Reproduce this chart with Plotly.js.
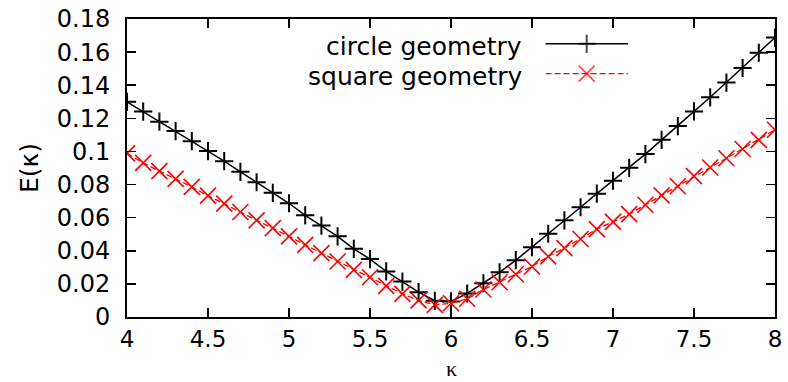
<!DOCTYPE html>
<html>
<head>
<meta charset="utf-8">
<script src="https://cdn.plot.ly/plotly-3.0.1.min.js"></script>
<style>
html, body { margin: 0; padding: 0; background: #fff; }
#chart { width: 788px; height: 382px; }
</style>
</head>
<body>
<div id="chart"></div>
<script>
// ---- data ----
const kappa = [4.0, 4.1, 4.2, 4.3, 4.4, 4.5, 4.6, 4.7, 4.8, 4.9,
               5.0, 5.1, 5.2, 5.3, 5.4, 5.5, 5.6, 5.7, 5.8, 5.9,
               6.0, 6.1, 6.2, 6.3, 6.4, 6.5, 6.6, 6.7, 6.8, 6.9,
               7.0, 7.1, 7.2, 7.3, 7.4, 7.5, 7.6, 7.7, 7.8, 7.9, 8.0];
const circleE = [0.1300, 0.1241, 0.1180, 0.1123, 0.1062, 0.1002, 0.0941, 0.0877, 0.0814, 0.0750,
                 0.0687, 0.0614, 0.0552, 0.0487, 0.0412, 0.0350, 0.0275, 0.0214, 0.0150, 0.0098,
                 0.0094, 0.0142, 0.0204, 0.0270, 0.0343, 0.0422, 0.0503, 0.0584, 0.0663, 0.0745,
                 0.0823, 0.0901, 0.0984, 0.1070, 0.1153, 0.1242, 0.1327, 0.1416, 0.1504, 0.1596, 0.1688];
const squareE = [0.0988, 0.0931, 0.0881, 0.0834, 0.0786, 0.0733, 0.0685, 0.0634, 0.0584, 0.0537,
                 0.0487, 0.0436, 0.0386, 0.0335, 0.0285, 0.0240, 0.0188, 0.0140, 0.0100, 0.0073,
                 0.0083, 0.0110, 0.0166, 0.0210, 0.0258, 0.0305, 0.0366, 0.0416, 0.0471, 0.0531,
                 0.0575, 0.0621, 0.0678, 0.0735, 0.0790, 0.0851, 0.0903, 0.0959, 0.1015, 0.1070, 0.1131];
const seriesNames = ["circle geometry", "square geometry"];
const xTitle = "κ";
const yTitle = "E(κ)";
const xTickVals = [4, 4.5, 5, 5.5, 6, 6.5, 7, 7.5, 8];
const xTickText = ["4", "4.5", "5", "5.5", "6", "6.5", "7", "7.5", "8"];
const yTickVals = [0, 0.02, 0.04, 0.06, 0.08, 0.1, 0.12, 0.14, 0.16, 0.18];
const yTickText = ["0", "0.02", "0.04", "0.06", "0.08", "0.1", "0.12", "0.14", "0.16", "0.18"];

// ---- styles ----
const FONT = "DejaVu Sans";
const black = "#000000";
const red = "#ff0000";
const circleStyle = {
  line: { color: black, width: 1.5 },
  marker: { symbol: "cross-thin", size: 13, color: black, line: { color: black, width: 2 } }
};
const squareStyle = {
  line: { color: red, width: 1.3, dash: "6px,3px" },
  marker: { symbol: "x-thin", size: 16, color: red, line: { color: red, width: 1.6 } }
};

// custom legend key placement (overlay axis 0..1)
const legendKey = { x0: 0.646, xm: 0.7094, x1: 0.773, rows: [0.9166, 0.8168], textX: 0.612 };

const traces = [
  Object.assign({ x: kappa, y: circleE, type: "scatter", mode: "lines+markers",
                  name: seriesNames[0], showlegend: false, hoverinfo: "skip" }, circleStyle),
  Object.assign({ x: kappa, y: squareE, type: "scatter", mode: "lines+markers",
                  name: seriesNames[1], showlegend: false, hoverinfo: "skip" }, squareStyle)
];
[circleStyle, squareStyle].forEach(function (st, i) {
  const yy = legendKey.rows[i];
  traces.push({
    x: [legendKey.x0, legendKey.xm, legendKey.x1], y: [yy, yy, yy],
    xaxis: "x2", yaxis: "y2", type: "scatter", mode: "lines+markers",
    showlegend: false, hoverinfo: "skip",
    line: st.line,
    marker: Object.assign({}, st.marker, { size: [0, st.marker.size, 0] })
  });
});

const axisCommon = {
  showline: true, linecolor: black, linewidth: 2, mirror: "ticks",
  ticks: "inside", ticklen: 9, tickwidth: 1.5, tickcolor: black,
  showgrid: false, zeroline: false,
  tickfont: { family: FONT, size: 24, color: black }
};

const annotations = seriesNames.map(function (nm, i) {
  return {
    text: nm, xref: "paper", yref: "paper", x: legendKey.textX, y: legendKey.rows[i] - 0.01,
    xanchor: "right", yanchor: "middle", showarrow: false,
    font: { family: FONT, size: 25, color: black }
  };
});
annotations.push({
  text: xTitle, xref: "paper", yref: "paper", x: 0.5, y: -0.2185,
  xanchor: "center", yanchor: "bottom", showarrow: false, borderpad: 0,
  font: { family: "Liberation Serif", size: 22, color: black }
});

const layout = {
  width: 788, height: 382,
  margin: { l: 127, r: 13, t: 19, b: 65, pad: 0 },
  paper_bgcolor: "#ffffff", plot_bgcolor: "#ffffff",
  showlegend: false,
  xaxis: Object.assign({}, axisCommon, {
    range: [4, 8], tickmode: "array", tickvals: xTickVals, ticktext: xTickText,
    tickfont: { family: FONT, size: 23, color: black },
    ticklabelstandoff: 0
  }),
  yaxis: Object.assign({}, axisCommon, {
    range: [0, 0.18], tickmode: "array", tickvals: yTickVals, ticktext: yTickText,
    ticklabelstandoff: 10,
    title: { text: yTitle, font: { family: FONT, size: 25, color: black }, standoff: 11 }
  }),
  xaxis2: { overlaying: "x", range: [0, 1], visible: false, fixedrange: true },
  yaxis2: { overlaying: "y", range: [0, 1], visible: false, fixedrange: true },
  annotations: annotations
};

Plotly.newPlot("chart", traces, layout, { staticPlot: true, displayModeBar: false });
</script>
</body>
</html>
